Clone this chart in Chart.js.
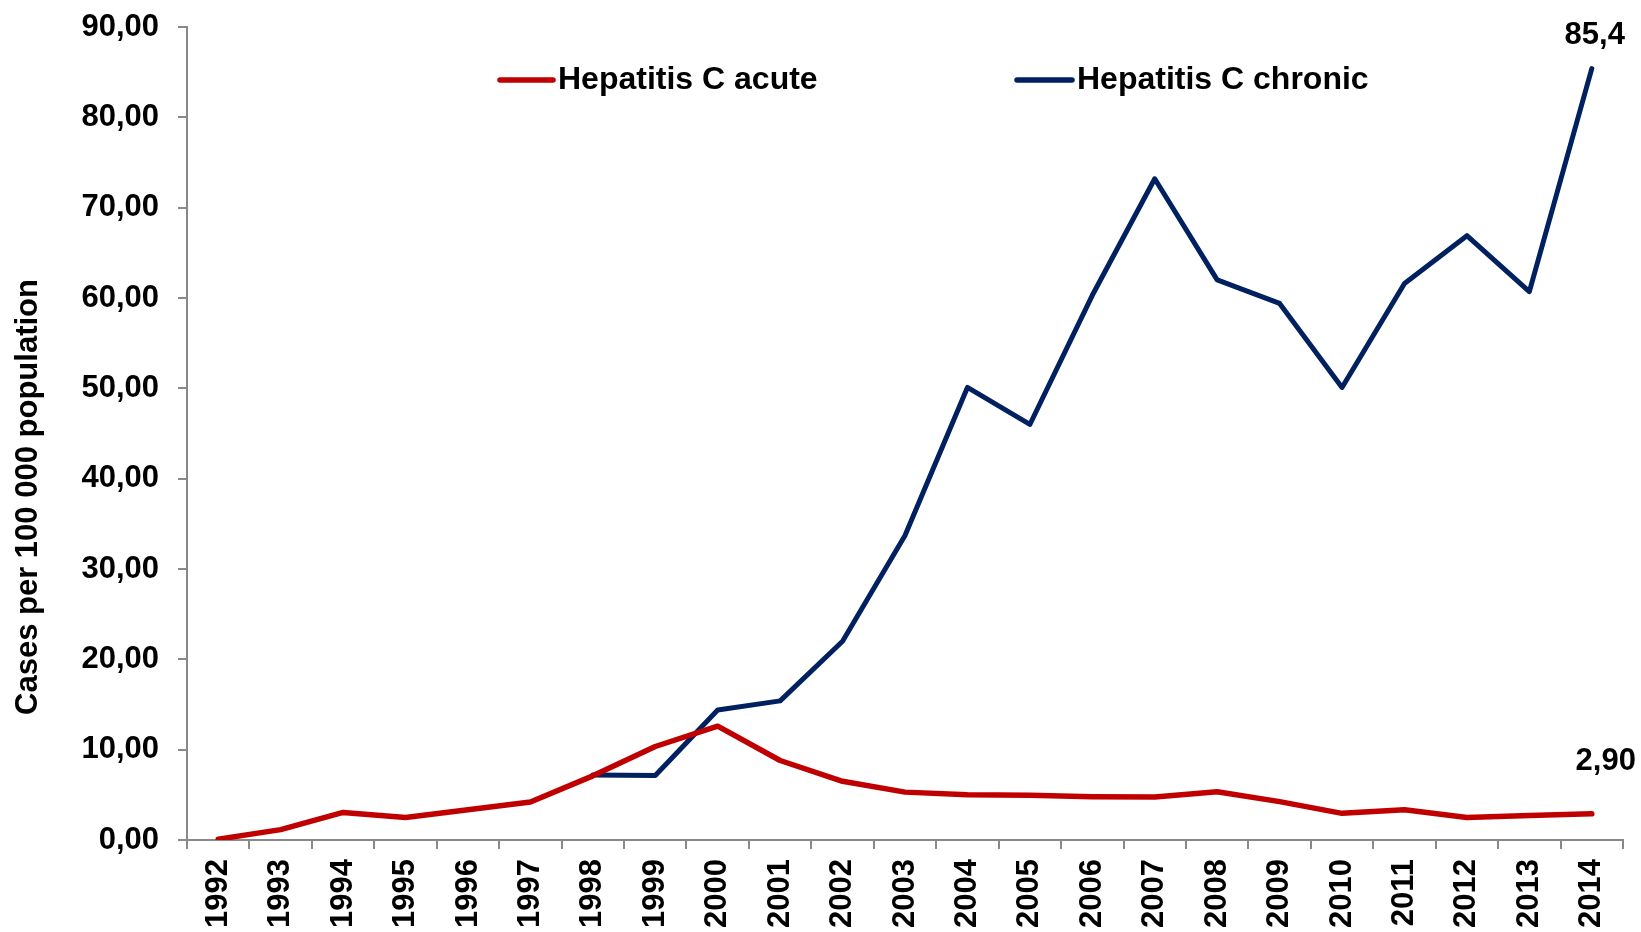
<!DOCTYPE html>
<html>
<head>
<meta charset="utf-8">
<script src="https://cdn.jsdelivr.net/npm/chart.js@4.4.1/dist/chart.umd.min.js"></script>
<style>
  html, body { margin: 0; padding: 0; background: #ffffff; }
  #wrap { width: 1641px; height: 932px; position: relative; }
</style>
</head>
<body>
<div id="wrap"><canvas id="c" width="1641" height="932"></canvas></div>
<script>
const years = ['1992','1993','1994','1995','1996','1997','1998','1999','2000','2001','2002','2003','2004','2005','2006','2007','2008','2009','2010','2011','2012','2013','2014'];
const acuteValues = [0.1, 1.15, 3.05, 2.5, 3.35, 4.2, 7.1, 10.35, 12.6, 8.8, 6.5, 5.3, 5.0, 4.95, 4.8, 4.75, 5.35, 4.25, 2.95, 3.35, 2.5, 2.7, 2.9];
const chronicValues = [null, null, null, null, null, null, 7.2, 7.15, 14.4, 15.4, 22.0, 33.7, 50.1, 46.0, 60.3, 73.2, 62.0, 59.4, 50.1, 61.6, 66.9, 60.7, 85.4];
const seriesNames = ['Hepatitis C acute', 'Hepatitis C chronic'];
const endLabels = ['2,90', '85,4'];
const yAxisTitle = 'Cases per 100 000 population';
const yMin = 0, yMax = 90, yStep = 10;

const FONT = '"Liberation Sans", Arial, Helvetica, sans-serif';
const RED = '#C00000';
const NAVY = '#002060';
const AXIS = '#898989';

const customDraw = {
  id: 'customDraw',
  afterDatasetsDraw(chart) {
    const ctx = chart.ctx;
    ctx.save();
    // end-point value labels
    ctx.font = 'bold 31px ' + FONT;
    ctx.fillStyle = '#000';
    ctx.textAlign = 'center';
    ctx.textBaseline = 'middle';
    const offs = [[14, -52], [3, -33]];
    chart.data.datasets.forEach((ds, i) => {
      const meta = chart.getDatasetMeta(i);
      const pt = meta.data[meta.data.length - 1];
      ctx.fillText(endLabels[i], pt.x + offs[i][0], pt.y + offs[i][1]);
    });
    // legend
    ctx.font = 'bold 32px ' + FONT;
    const items = [[500, 553, 558], [1017, 1072, 1077]];
    const ly = 80;
    chart.data.datasets.forEach((ds, i) => {
      ctx.strokeStyle = ds.borderColor;
      ctx.lineWidth = 5.5;
      ctx.lineCap = 'round';
      ctx.beginPath();
      ctx.moveTo(items[i][0], ly);
      ctx.lineTo(items[i][1], ly);
      ctx.stroke();
      ctx.textAlign = 'left';
      ctx.fillStyle = '#000';
      ctx.fillText(ds.label, items[i][2], ly);
    });
    // y-axis title
    ctx.font = 'bold 31px ' + FONT;
    ctx.translate(28, 497);
    ctx.rotate(-Math.PI / 2);
    ctx.textAlign = 'center';
    ctx.fillText(yAxisTitle, 0, 0);
    ctx.restore();
  }
};

new Chart(document.getElementById('c'), {
  type: 'line',
  data: {
    labels: years,
    datasets: [
      { label: seriesNames[0], data: acuteValues, borderColor: RED, backgroundColor: RED,
        borderWidth: 5.5, pointRadius: 0, tension: 0, borderJoinStyle: 'round', borderCapStyle: 'round' },
      { label: seriesNames[1], data: chronicValues, borderColor: NAVY, backgroundColor: NAVY,
        borderWidth: 5, pointRadius: 0, tension: 0, borderJoinStyle: 'round', borderCapStyle: 'round', spanGaps: false }
    ]
  },
  options: {
    responsive: false,
    animation: false,
    devicePixelRatio: 1,
    layout: { padding: { left: 0, top: 27, right: 18, bottom: 0 } },
    plugins: { legend: { display: false }, tooltip: { enabled: false } },
    scales: {
      x: {
        offset: true,
        grid: { display: true, offset: true, drawOnChartArea: false, drawTicks: true, tickLength: 9, color: AXIS, lineWidth: 2 },
        border: { display: true, color: AXIS, width: 2 },
        ticks: { autoSkip: false, minRotation: 90, maxRotation: 90, padding: 10, color: '#000',
                 font: { family: FONT, size: 31, weight: 'bold' } },
        afterFit(scale) { scale.height = 92; }
      },
      y: {
        min: yMin, max: yMax,
        grid: { display: true, drawOnChartArea: false, drawTicks: true, tickLength: 9, color: AXIS, lineWidth: 2 },
        border: { display: true, color: AXIS, width: 2 },
        ticks: { stepSize: yStep, padding: 19, color: '#000',
                 font: { family: FONT, size: 31, weight: 'bold' },
                 callback: (v) => Number(v).toFixed(2).replace('.', ',') },
        afterFit(scale) { scale.width = 187; scale.paddingTop = 0; scale.paddingBottom = 0; }
      }
    }
  },
  plugins: [customDraw]
});
</script>
</body>
</html>
